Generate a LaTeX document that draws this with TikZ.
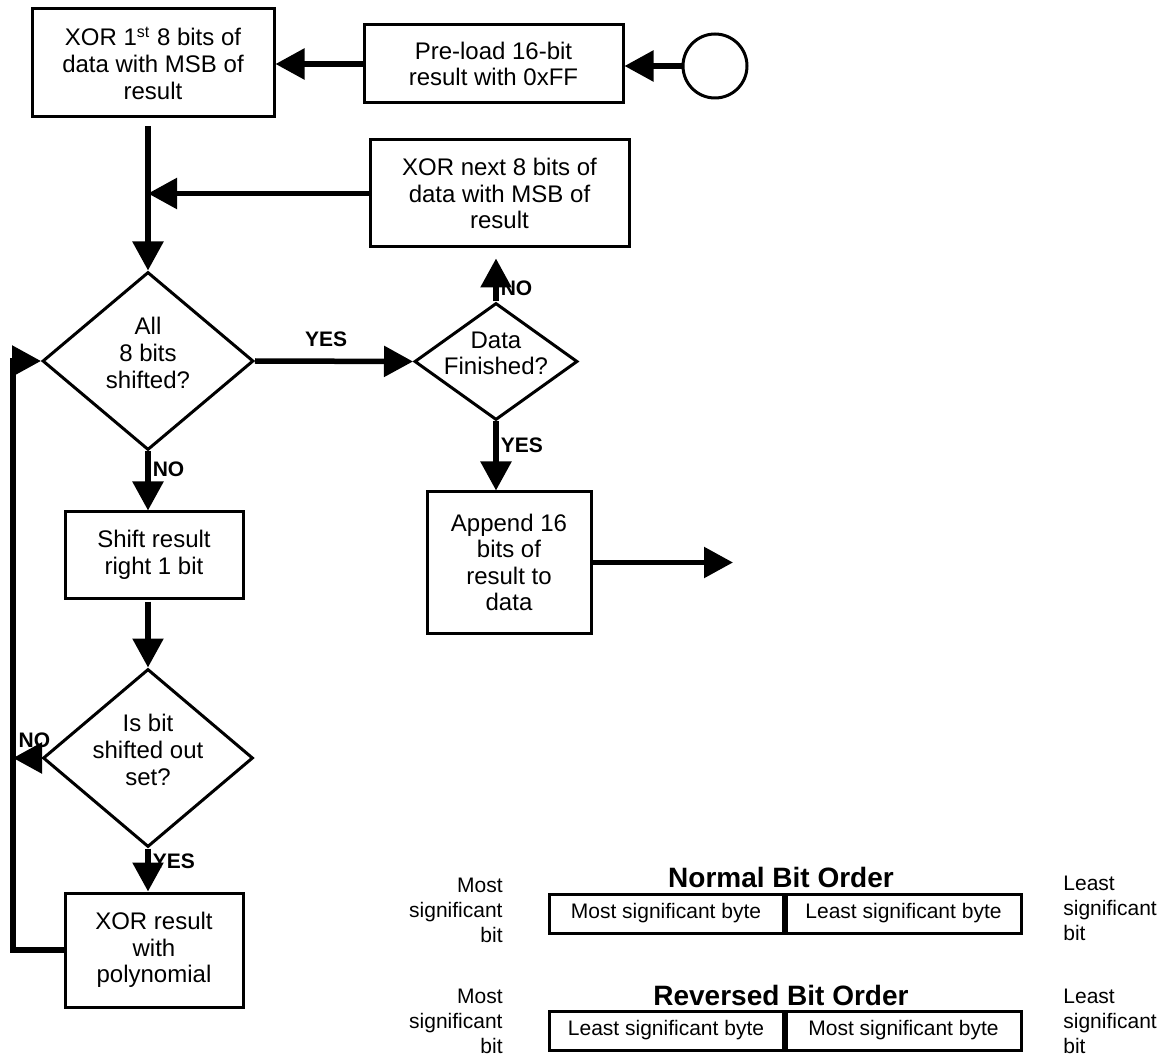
\documentclass[tikz,border=0pt]{standalone}
\usepackage{fontspec}
\setmainfont{Liberation Sans}
\usetikzlibrary{shapes.geometric,arrows.meta}

\tikzset{
  box/.style={draw, line width=1.5pt, align=center, inner sep=2pt, font=\fontsize{12}{13.3}\selectfont},
  decision/.style={draw, diamond, line width=1.5pt, inner sep=0pt},
  dtext/.style={align=center, inner sep=0pt, yshift=4pt, font=\fontsize{12}{13.3}\selectfont},
  flow/.style={line width=2.75pt, -{Triangle[length=14.5pt,width=15pt]}},
  answer/.style={inner sep=1pt, font=\fontsize{10.5}{12}\selectfont\bfseries},
  cell/.style={draw, line width=1.5pt, minimum height=19.5pt, font=\fontsize{10.5}{12.5}\selectfont},
  side/.style={inner sep=0pt, font=\fontsize{10.5}{12.5}\selectfont},
  order/.style={inner sep=0pt, font=\fontsize{14}{16}\selectfont\bfseries}
}

\begin{document}
\begin{tikzpicture}[x=0.5pt, y=-0.5pt]
  \useasboundingbox (0,0) rectangle (1174,1059);

  \node[box, minimum width=121pt, minimum height=54pt] (xorfirst) at (153,63) {XOR 1\textsuperscript{st} 8 bits of\\data with MSB of\\result};
  \node[box, minimum width=129.5pt, minimum height=39pt] (preload) at (493.5,64) {Pre-load 16-bit\\result with 0xFF};
  \node[draw, circle, line width=1.5pt, minimum size=32pt, inner sep=0pt] (start) at (715,66) {};
  \node[box, minimum width=129.5pt, minimum height=53.5pt] (xornext) at (499.5,193.5) {XOR next 8 bits of\\data with MSB of\\result};
  \node[decision, minimum width=105.5pt, minimum height=89pt, label={[dtext]center:All\\8 bits\\shifted?}] (allbits) at (148,361) {};
  \node[decision, minimum width=81.5pt, minimum height=58.5pt, label={[dtext]center:Data\\Finished?}] (datadone) at (496,361.5) {};
  \node[box, minimum width=89pt, minimum height=43pt] (shift) at (154,555) {Shift result\\right 1 bit};
  \node[decision, minimum width=105pt, minimum height=89pt, label={[dtext]center:Is bit\\shifted out\\set?}] (bitset) at (148,758) {};
  \node[box, minimum width=89pt, minimum height=57pt] (xorpoly) at (154,950) {XOR result\\with\\polynomial};
  \node[box, minimum width=82pt, minimum height=70.5pt] (append) at (509,562.5) {Append 16\\bits of\\result to\\data};
  \coordinate (done) at (733,562.5);
  \coordinate (back) at (13,0);

  \draw[flow] (start.west) -- (start.west -| preload.east);
  \draw[flow] (preload.west) -- (preload.west -| xorfirst.east);
  \draw[flow] ([yshift=-4pt]xorfirst.south -| allbits.north) -- (allbits.north);
  \draw[flow] (xornext.west) -- (xornext.west -| allbits.north);
  \draw[flow] (allbits.east) -- node[answer, above=5pt, pos=0.45] {YES} (datadone.west);
  \draw[flow] (datadone.north) -- node[answer, right, pos=0.3] {NO} ([yshift=-5pt]xornext.south -| datadone.north);
  \draw[flow] (datadone.south) -- node[answer, right, pos=0.35] {YES} (datadone.south |- append.north);
  \draw[flow] (append.east) -- (done);
  \draw[flow] (allbits.south) -- node[answer, right, pos=0.3] {NO} (allbits.south |- shift.north);
  \draw[flow] ([yshift=-1pt]shift.south -| bitset.north) -- (bitset.north);
  \draw[flow] (bitset.south) -- node[answer, right, pos=0.3] {YES} (bitset.south |- xorpoly.north);
  \draw[flow] (bitset.west) -- node[answer, above=3pt, pos=0.25] {NO} (bitset.west -| back);
  \draw[flow] (xorpoly.west) -- (xorpoly.west -| back) -- (allbits.west -| back) -- (allbits.west);

  \node[order] (normal) at (781,877) {Normal Bit Order};
  \node[cell, minimum width=117pt] (nmost) at (666,913.5) {Most significant byte};
  \node[cell, minimum width=117.5pt, anchor=west] (nleast) at (nmost.east) {Least significant byte};
  \node[side, align=right, anchor=east] (nmsbit) at (503,910) {Most\\significant\\bit};
  \node[side, align=left, anchor=west] (nlsbit) at (1063,908) {Least\\significant\\bit};

  \node[order] (reversed) at (781,995) {Reversed Bit Order};
  \node[cell, minimum width=117pt] (rleast) at (666,1030.5) {Least significant byte};
  \node[cell, minimum width=117.5pt, anchor=west] (rmost) at (rleast.east) {Most significant byte};
  \node[side, align=right, anchor=east] (rmsbit) at (503,1021) {Most\\significant\\bit};
  \node[side, align=left, anchor=west] (rlsbit) at (1063,1021) {Least\\significant\\bit};
\end{tikzpicture}
\end{document}
